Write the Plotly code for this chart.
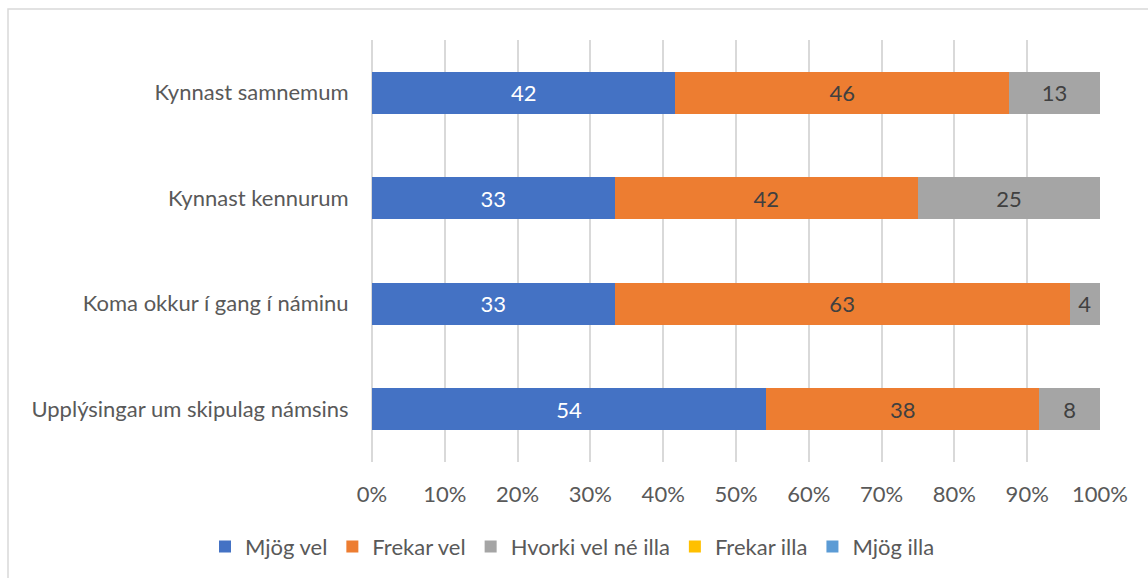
import plotly.graph_objects as go

categories = ["Upplýsingar um skipulag námsins", "Koma okkur í gang í náminu",
              "Kynnast kennurum", "Kynnast samnemum"]
series_names = ["Mjög vel", "Frekar vel", "Hvorki vel né illa", "Frekar illa", "Mjög illa"]
mjog_vel = [54.17, 33.33, 33.33, 41.67]
frekar_vel = [37.5, 62.5, 41.67, 45.83]
hvorki = [8.33, 4.17, 25.0, 12.5]
frekar_illa = [0, 0, 0, 0]
mjog_illa = [0, 0, 0, 0]
series_values = [mjog_vel, frekar_vel, hvorki, frekar_illa, mjog_illa]
colors = ["#4472C4", "#ED7D31", "#A5A5A5", "#FFC000", "#5B9BD5"]
text_colors = ["#FFFFFF", "#404040", "#404040", "#404040", "#404040"]
x_ticks = [0, 10, 20, 30, 40, 50, 60, 70, 80, 90, 100]
x_tick_labels = [f"{t}%" for t in x_ticks]

FONT = "Lato, Calibri, sans-serif"
FS = 22

fig = go.Figure()
for name, vals, c, tc in zip(series_names, series_values, colors, text_colors):
    has = any(v > 0 for v in vals)
    fig.add_trace(go.Bar(
        y=categories, x=vals, name=name, orientation="h",
        marker=dict(color=c, line=dict(width=0)),
        texttemplate="%{x:.0f}" if has else None,
        textposition="inside" if has else "none",
        insidetextanchor="middle", textangle=0,
        textfont=dict(color=tc, size=FS, family=FONT),
        hoverinfo="skip",
    ))

fig.update_layout(
    barmode="stack",
    bargap=0.604,
    width=1148, height=578,
    margin=dict(l=372, r=48, t=40, b=116, autoexpand=False),
    paper_bgcolor="white", plot_bgcolor="white",
    font=dict(family=FONT, size=FS, color="#595959"),
    xaxis=dict(range=[0, 100], tickvals=x_ticks, ticktext=x_tick_labels,
               showgrid=True, gridcolor="#D9D9D9", gridwidth=1.5,
               zeroline=True, zerolinecolor="#D9D9D9", zerolinewidth=1.5,
               showline=False, ticks="outside", ticklen=13, tickcolor="rgba(0,0,0,0)",
               tickfont=dict(size=FS, color="#595959", family=FONT), fixedrange=True),
    yaxis=dict(showgrid=False, zeroline=False, showline=False,
               ticks="outside", ticklen=18, tickcolor="rgba(0,0,0,0)",
               tickfont=dict(size=FS, color="#595959", family=FONT), fixedrange=True),
    legend=dict(orientation="h",
                x=(205 - 372) / 728, xanchor="left", y=-0.201, yanchor="middle",
                bgcolor="rgba(0,0,0,0)",
                font=dict(size=FS, color="#595959", family=FONT),
                tracegroupgap=0, traceorder="normal"),
    shapes=[dict(type="rect", xref="paper", yref="paper",
                 x0=-0.5, x1=1.075, y0=-0.29, y1=1.0735,
                 line=dict(color="#D9D9D9", width=1.5), fillcolor="rgba(0,0,0,0)",
                 layer="below")],
)

fig.write_html("out.html", config={"displayModeBar": False},
               post_script="document.body.style.margin='0';document.body.style.overflow='hidden';")
